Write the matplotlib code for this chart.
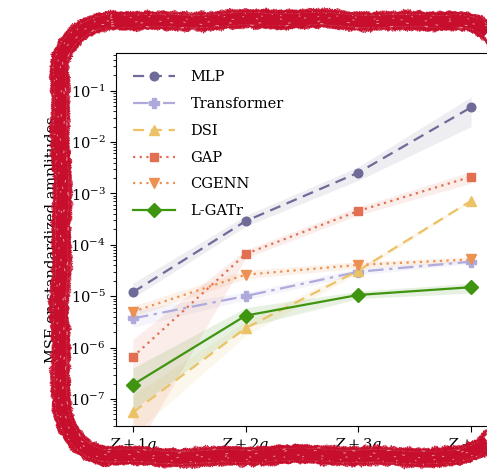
import numpy as np
import matplotlib
matplotlib.use("Agg")
import matplotlib.pyplot as plt
from matplotlib.collections import LineCollection

# ---------------- data ----------------
categories = ["$Z+1g$", "$Z+2g$", "$Z+3g$", "$Z+4g$"]

mlp = [1.2e-5, 2.9e-4, 2.55e-3, 4.75e-2]
mlp_lo = [9.3e-6, 2.3e-4, 1.8e-3, 2.0e-2]
mlp_hi = [1.8e-5, 3.7e-4, 3.3e-3, 7.6e-2]

transformer = [3.7e-6, 1.01e-5, 3.0e-5, 4.7e-5]
transformer_lo = [2.5e-6, 8.5e-6, 2.6e-5, 4.3e-5]
transformer_hi = [5.4e-6, 1.2e-5, 3.5e-5, 5.2e-5]

dsi = [5.5e-8, 2.4e-6, 3.16e-5, 7.2e-4]
dsi_lo = [2.0e-8, 1.7e-6, 2.8e-5, 6.8e-4]
dsi_hi = [1.2e-7, 3.2e-6, 3.6e-5, 7.7e-4]

gap = [6.6e-7, 6.65e-5, 4.57e-4, 2.12e-3]
gap_lo = [8e-9, 5.5e-5, 3.8e-4, 1.58e-3]
gap_hi = [1.45e-6, 8.0e-5, 5.5e-4, 2.65e-3]

cgenn = [5.0e-6, 2.63e-5, 4.07e-5, 5.2e-5]
cgenn_lo = [4.0e-6, 2.2e-5, 3.5e-5, 4.7e-5]
cgenn_hi = [6.5e-6, 3.2e-5, 4.7e-5, 5.8e-5]

lgatr = [1.9e-7, 4.2e-6, 1.06e-5, 1.5e-5]
lgatr_lo = [6.2e-8, 2.5e-6, 9.0e-6, 1.15e-5]
lgatr_hi = [4.0e-7, 6.0e-6, 1.25e-5, 1.8e-5]

series = [
    ("MLP", mlp, mlp_lo, mlp_hi, "#6e6b98", (0, (5, 3)), "o", 6.2),
    ("Transformer", transformer, transformer_lo, transformer_hi, "#aeabdc", (0, (7, 2.5, 1.5, 2.5)), "P", 6.5),
    ("DSI", dsi, dsi_lo, dsi_hi, "#ebc266", (0, (5, 3)), "^", 6.5),
    ("GAP", gap, gap_lo, gap_hi, "#e26f52", (0, (1, 2)), "s", 6.2),
    ("CGENN", cgenn, cgenn_lo, cgenn_hi, "#ec9152", (0, (1, 2)), "v", 6.5),
    ("L-GATr", lgatr, lgatr_lo, lgatr_hi, "#3f9410", "-", "D", 6.8),
]

plt.rcParams["font.family"] = ["DejaVu Serif"]
plt.rcParams["mathtext.fontset"] = "dejavuserif"

fig = plt.figure(figsize=(4.87, 4.74), dpi=100)
ax = fig.add_axes([116 / 487, 1 - 426 / 474, (488 - 116) / 487, (426 - 53.3) / 474])

x = np.arange(len(categories))
for name, y, lo, hi, col, ls, mk, ms in series:
    ax.fill_between(x, lo, hi, color=col, alpha=0.12, linewidth=0)
    ax.plot(x, y, linestyle=ls, color=col, marker=mk, markersize=ms,
            linewidth=1.6, label=name)

ax.set_yscale("log")
ax.set_ylim(10 ** -7.525, 10 ** -0.272)
ax.set_xlim(-0.15, 3.15)
ax.set_xticks(x)
ax.set_xticklabels(categories, fontsize=10.5)
ax.tick_params(axis="both", which="major", length=4, direction="out", labelsize=10.5)
ax.tick_params(axis="y", which="minor", length=2, direction="out")
ax.set_ylabel("MSE on standardized amplitudes", fontsize=10.5, labelpad=8)

leg = ax.legend(loc="upper left", frameon=False, fontsize=10.5, handlelength=2.9,
                handletextpad=1.05, labelspacing=0.88, bbox_to_anchor=(0.01, 0.99))

# ---------------- rough red frame overlay ----------------
ov = fig.add_axes([0, 0, 1, 1], zorder=10)
ov.set_xlim(0, 487)
ov.set_ylim(474, 0)
ov.axis("off")
ov.patch.set_alpha(0)

x0, y0, x1, y1, r = 61, 20, 503, 456, 50
pts = []
def seg(a, b, n):
    for t in np.linspace(0, 1, n, endpoint=False):
        pts.append((a[0] + (b[0] - a[0]) * t, a[1] + (b[1] - a[1]) * t))
def arc(cx, cy, a0, a1, n):
    for t in np.linspace(a0, a1, n, endpoint=False):
        pts.append((cx + r * np.cos(t), cy + r * np.sin(t)))
seg((x0 + r, y0), (x1 - r, y0), 340)
arc(x1 - r, y0 + r, -np.pi / 2, 0, 70)
seg((x1, y0 + r), (x1, y1 - r), 340)
arc(x1 - r, y1 - r, 0, np.pi / 2, 70)
seg((x1 - r, y1), (x0 + r, y1), 340)
arc(x0 + r, y1 - r, np.pi / 2, np.pi, 70)
seg((x0, y1 - r), (x0, y0 + r), 340)
arc(x0 + r, y0 + r, np.pi, 1.5 * np.pi, 71)
P = np.array(pts + [pts[0]])
d = np.gradient(P, axis=0)
nrm = np.stack([-d[:, 1], d[:, 0]], axis=1)
nrm /= np.linalg.norm(nrm, axis=1, keepdims=True)
s = np.concatenate([[0], np.cumsum(np.linalg.norm(np.diff(P, axis=0), axis=1))])
idx = np.arange(len(P))

red = "#c70f2d"
px2pt = 72 / 100

def hashn(k):
    v = np.sin(idx * 12.9898 + k * 78.233) * 43758.5453
    v = v - np.floor(v)
    return (v + np.roll(v, 1) + np.roll(v, -1)) / 3.0

# slow wobble of the whole stroke
wob = 1.2 * np.sin(s / 37.0) + 0.8 * np.sin(s / 13.0 + 1.0)
C = P + nrm * wob[:, None]

# core
ov.plot(C[:, 0], C[:, 1], color=red, lw=12 * px2pt, solid_capstyle="butt")
# ragged edges on each side
for side in (-1, 1):
    for k in range(3):
        w = 0.5 + 5.0 * hashn(k * 7 + (side + 1) * 3) ** 1.3
        off = side * (5.5 + 0.5 * w + 0.8 * k)
        Q = C + nrm * off[:, None]
        segs = np.stack([Q[:-1], Q[1:]], axis=1)
        lc = LineCollection(segs, colors=red, linewidths=w[:-1] * px2pt, capstyle="butt")
        ov.add_collection(lc)
# white speckles inside the stroke
for i in range(5):
    off = (i - 2) * 3.0 + 1.0 * np.sin(s / 4.1 + i)
    Q = C + nrm * off[:, None]
    ov.plot(Q[:, 0], Q[:, 1], color="white", lw=0.7, alpha=0.55,
            dashes=(1.0 + 0.6 * i, 13 + 5 * i))

fig.savefig("out.png", dpi=100)
